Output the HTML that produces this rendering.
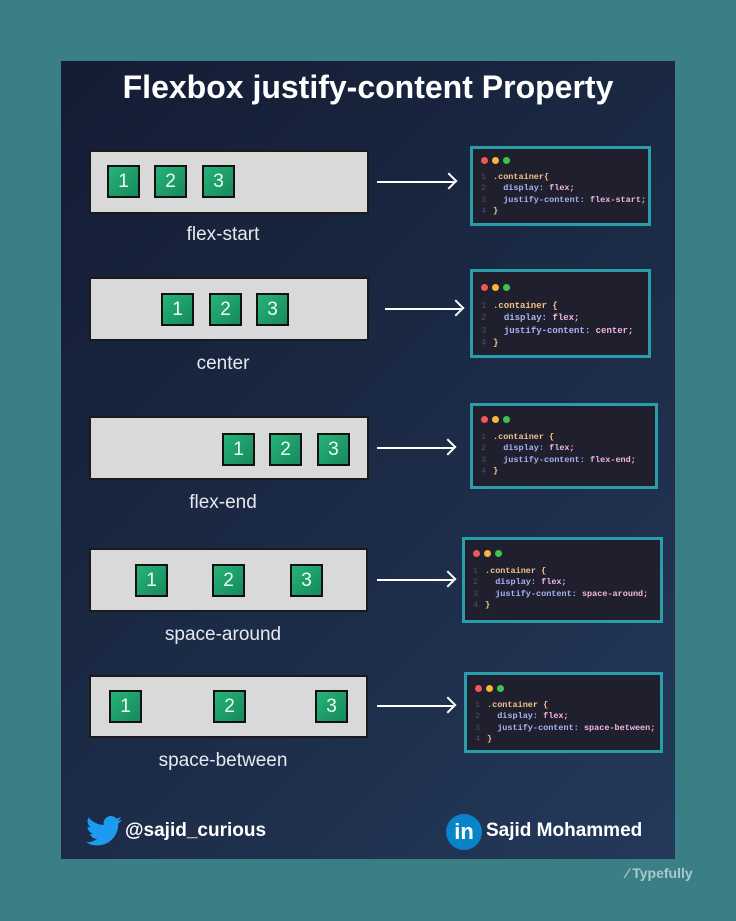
<!DOCTYPE html>
<html><head><meta charset="utf-8"><style>
*{margin:0;padding:0;box-sizing:border-box}
body{width:736px;height:921px;background:#3a7f86;position:relative;overflow:hidden;font-family:"Liberation Sans",sans-serif}
.panel{position:absolute;left:61px;top:61px;width:614px;height:798px;background:linear-gradient(135deg,#141c33 0%,#1b2a45 50%,#24395a 100%)}
.a{position:absolute}
.title{left:61px;width:614px;top:69px;text-align:center;color:#fff;font-weight:bold;font-size:32px}
.box{position:absolute;background:#d9d9d9;border:2px solid #1a1a1a}
.sq{position:absolute;width:33px;height:33px;background:linear-gradient(135deg,#26b37a,#17895a);border:2px solid #111;color:#e8fff2;font-size:19px;text-align:center;line-height:29px}
.lbl{position:absolute;color:#e6e9ef;font-size:19px;text-align:center;width:280px}
.arr{position:absolute;height:2px;background:#fff}
.arr:after{content:"";position:absolute;right:-1px;top:-6px;width:10px;height:10px;border-top:2px solid #fff;border-right:2px solid #fff;transform:rotate(45deg)}
.code{position:absolute;background:#1f1f2e;border:3px solid #2a9dab;font-family:"Liberation Mono",monospace;font-size:8.5px;color:#c7c9f0;padding:8px 0 0 8px;line-height:11.5px;font-weight:bold}
.dots span{display:inline-block;width:7px;height:7px;border-radius:50%;margin-right:4px}
.code .n{color:#4a4e6a;display:inline-block;width:12px;font-weight:normal}
.k{color:#f2c48a}.p{color:#a9b4f5}.v{color:#f5b8e0}
.foot{position:absolute;color:#fff;font-weight:bold;font-size:19px}
</style></head><body>
<div class="panel"></div>
<div class="a title">Flexbox justify-content Property</div>

<div class="box" style="left:89px;top:150px;width:280px;height:64px"></div>
<div class="sq" style="left:107px;top:165px">1</div><div class="sq" style="left:154px;top:165px">2</div><div class="sq" style="left:202px;top:165px">3</div>
<div class="lbl" style="left:83px;top:224px">flex-start</div>
<div class="arr" style="left:377px;top:181px;width:77px"></div>

<div class="box" style="left:89px;top:277px;width:280px;height:64px"></div>
<div class="sq" style="left:161px;top:293px">1</div><div class="sq" style="left:209px;top:293px">2</div><div class="sq" style="left:256px;top:293px">3</div>
<div class="lbl" style="left:83px;top:353px">center</div>
<div class="arr" style="left:385px;top:308px;width:76px"></div>

<div class="box" style="left:89px;top:416px;width:280px;height:64px"></div>
<div class="sq" style="left:222px;top:433px">1</div><div class="sq" style="left:269px;top:433px">2</div><div class="sq" style="left:317px;top:433px">3</div>
<div class="lbl" style="left:83px;top:492px">flex-end</div>
<div class="arr" style="left:377px;top:447px;width:76px"></div>

<div class="box" style="left:89px;top:548px;width:279px;height:64px"></div>
<div class="sq" style="left:135px;top:564px">1</div><div class="sq" style="left:212px;top:564px">2</div><div class="sq" style="left:290px;top:564px">3</div>
<div class="lbl" style="left:83px;top:624px">space-around</div>
<div class="arr" style="left:377px;top:579px;width:76px"></div>

<div class="box" style="left:89px;top:675px;width:279px;height:63px"></div>
<div class="sq" style="left:109px;top:690px">1</div><div class="sq" style="left:213px;top:690px">2</div><div class="sq" style="left:315px;top:690px">3</div>
<div class="lbl" style="left:83px;top:750px">space-between</div>
<div class="arr" style="left:377px;top:705px;width:76px"></div>

<div class="code" style="left:470px;top:146px;width:181px;height:80px">
<div class="dots"><span style="background:#f0555a"></span><span style="background:#f5b73a"></span><span style="background:#3cc452"></span></div>
<div style="margin-top:3px"><span class="n">1</span><span class="k">.container{</span></div>
<div><span class="n">2</span>&nbsp;&nbsp;<span class="p">display:</span> <span class="v">flex;</span></div>
<div><span class="n">3</span>&nbsp;&nbsp;<span class="p">justify-content:</span> <span class="v">flex-start;</span></div>
<div><span class="n">4</span><span class="k">}</span></div></div>

<div class="code" style="left:470px;top:269px;width:181px;height:89px;padding-top:11px;font-size:9px;line-height:12.5px">
<div class="dots"><span style="background:#f0555a"></span><span style="background:#f5b73a"></span><span style="background:#3cc452"></span></div>
<div style="margin-top:4px"><span class="n">1</span><span class="k">.container {</span></div>
<div><span class="n">2</span>&nbsp;&nbsp;<span class="p">display:</span> <span class="v">flex;</span></div>
<div><span class="n">3</span>&nbsp;&nbsp;<span class="p">justify-content:</span> <span class="v">center;</span></div>
<div><span class="n">4</span><span class="k">}</span></div></div>

<div class="code" style="left:470px;top:403px;width:188px;height:86px;padding-top:10px">
<div class="dots"><span style="background:#f0555a"></span><span style="background:#f5b73a"></span><span style="background:#3cc452"></span></div>
<div style="margin-top:4px"><span class="n">1</span><span class="k">.container {</span></div>
<div><span class="n">2</span>&nbsp;&nbsp;<span class="p">display:</span> <span class="v">flex;</span></div>
<div><span class="n">3</span>&nbsp;&nbsp;<span class="p">justify-content:</span> <span class="v">flex-end;</span></div>
<div><span class="n">4</span><span class="k">}</span></div></div>

<div class="code" style="left:462px;top:537px;width:201px;height:86px;padding-top:10px">
<div class="dots"><span style="background:#f0555a"></span><span style="background:#f5b73a"></span><span style="background:#3cc452"></span></div>
<div style="margin-top:4px"><span class="n">1</span><span class="k">.container {</span></div>
<div><span class="n">2</span>&nbsp;&nbsp;<span class="p">display:</span> <span class="v">flex;</span></div>
<div><span class="n">3</span>&nbsp;&nbsp;<span class="p">justify-content:</span> <span class="v">space-around;</span></div>
<div><span class="n">4</span><span class="k">}</span></div></div>

<div class="code" style="left:464px;top:672px;width:199px;height:81px;padding-top:10px">
<div class="dots"><span style="background:#f0555a"></span><span style="background:#f5b73a"></span><span style="background:#3cc452"></span></div>
<div style="margin-top:3px"><span class="n">1</span><span class="k">.container {</span></div>
<div><span class="n">2</span>&nbsp;&nbsp;<span class="p">display:</span> <span class="v">flex;</span></div>
<div><span class="n">3</span>&nbsp;&nbsp;<span class="p">justify-content:</span> <span class="v">space-between;</span></div>
<div><span class="n">4</span><span class="k">}</span></div></div>

<svg class="a" style="left:86px;top:816px" width="36" height="30" viewBox="0 0 24 20"><path fill="#1d9bf0" d="M24 2.4c-.9.4-1.8.7-2.8.8 1-.6 1.8-1.6 2.200-2.7-1 .6-2 1-3.1 1.2C19.3.7 18 0 16.6 0c-2.7 0-4.9 2.2-4.9 4.9 0 .4 0 .8.1 1.1C7.7 5.8 4.1 3.9 1.7.9c-.4.7-.7 1.6-.7 2.5 0 1.7.9 3.2 2.2 4.1-.8 0-1.600-.2-2.200-.6v.1c0 2.4 1.7 4.4 3.9 4.8-.4.1-.8.2-1.3.2-.3 0-.6 0-.9-.1.6 2 2.4 3.4 4.6 3.4-1.7 1.3-3.8 2.1-6.1 2.1-.4 0-.8 0-1.2-.1C2.2 18.8 4.8 19.6 7.5 19.6c9.1 0 14-7.5 14-14v-.6c1-.7 1.8-1.6 2.5-2.6z"/></svg>
<div class="foot" style="left:125px;top:820px">@sajid_curious</div>
<div class="a" style="left:446px;top:814px;width:36px;height:36px;border-radius:50%;background:#0a84c9;color:#fff;font-weight:bold;font-size:22px;text-align:center;line-height:35px">in</div>
<div class="foot" style="left:486px;top:820px">Sajid Mohammed</div>
<div class="a" style="left:626px;top:865px;color:#a9c9cc;font-weight:bold;font-size:14px">⁄ Typefully</div>
</body></html>
